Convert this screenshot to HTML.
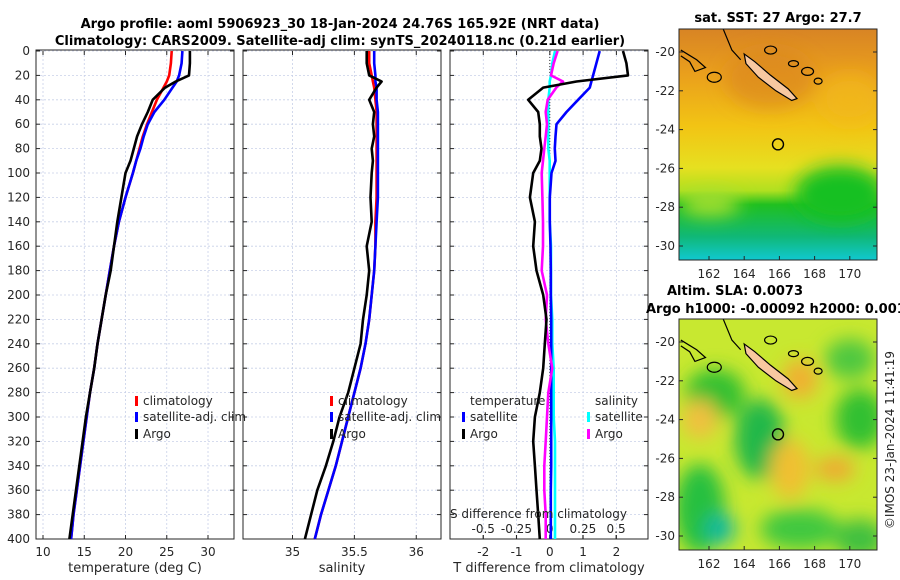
<!DOCTYPE html>
<html><head><meta charset="utf-8"><style>
body{margin:0;background:#fff}
svg{display:block;font-family:"DejaVu Sans","Liberation Sans",sans-serif}
</style></head><body>
<svg id="fig" width="900" height="580" viewBox="0 0 900 580">
<defs>
<linearGradient id="sstg" x1="0" y1="0" x2="0" y2="1">
<stop offset="0" stop-color="#d88424"/><stop offset="0.2" stop-color="#eaa01c"/>
<stop offset="0.42" stop-color="#f2c414"/><stop offset="0.6" stop-color="#e6e020"/>
<stop offset="0.7" stop-color="#b0e020"/><stop offset="0.76" stop-color="#20c020"/>
<stop offset="0.9" stop-color="#10b878"/><stop offset="1" stop-color="#10c8d0"/>
</linearGradient>
<filter id="blur"><feGaussianBlur stdDeviation="9"/></filter>
<clipPath id="c1"><rect x="679" y="29" width="198" height="231"/></clipPath>
<clipPath id="c2"><rect x="679" y="319" width="198" height="231"/></clipPath>
</defs>
<g id="root"></g>
</svg>
<script>
// ---------- data ----------
const depths = [0,10,20,25,30,40,50,60,70,80,90,100,120,140,160,180,200,220,240,260,280,300,320,340,360,380,400];
const tempArgo = [27.8,27.8,27.7,26.1,24.8,23.3,22.7,22.0,21.4,21.0,20.6,20.0,19.5,19.0,18.6,18.2,17.6,17.1,16.6,16.2,15.7,15.2,14.8,14.4,14.0,13.6,13.2];
const tempClim = [25.6,25.5,25.3,25.0,24.6,23.8,23.2,22.6,22.1,21.7,21.3,20.9,20.0,19.2,18.6,18.1,17.6,17.1,16.6,16.2,15.7,15.3,14.9,14.5,14.1,13.7,13.4];
const tempSat  = [26.9,26.8,26.5,26.2,25.7,24.7,23.5,22.7,22.2,21.8,21.3,20.9,20.0,19.2,18.6,18.1,17.6,17.1,16.6,16.2,15.7,15.3,14.9,14.5,14.1,13.7,13.4];
const salArgo = [35.6,35.6,35.62,35.72,35.68,35.62,35.66,35.65,35.66,35.64,35.65,35.64,35.63,35.64,35.6,35.62,35.6,35.57,35.55,35.5,35.45,35.38,35.33,35.27,35.2,35.15,35.1];
const salClim = [35.62,35.62,35.64,35.65,35.66,35.67,35.68,35.68,35.68,35.68,35.68,35.68,35.68,35.67,35.67,35.66,35.64,35.62,35.59,35.55,35.5,35.45,35.4,35.35,35.29,35.23,35.18];
const salSat  = [35.66,35.66,35.67,35.67,35.68,35.68,35.69,35.69,35.69,35.69,35.69,35.69,35.69,35.68,35.67,35.66,35.64,35.62,35.59,35.55,35.5,35.45,35.4,35.35,35.29,35.23,35.18];
const tDiffArgo = [2.2,2.3,2.35,0.8,-0.2,-0.65,-0.35,-0.3,-0.3,-0.25,-0.3,-0.5,-0.6,-0.45,-0.5,-0.4,-0.2,-0.1,-0.15,-0.2,-0.3,-0.45,-0.5,-0.45,-0.4,-0.35,-0.3];
const tDiffSat  = [1.5,1.4,1.3,1.25,1.2,0.85,0.5,0.2,0.17,0.15,0.17,0.05,0.0,0.0,0.02,0.03,0.03,0.04,0.04,0.04,0.04,0.04,0.04,0.04,0.03,0.03,0.03];
const sDiffArgo = [0.06,0.03,0.01,0.1,0.05,-0.015,-0.03,-0.02,-0.03,-0.04,-0.05,-0.06,-0.055,-0.05,-0.05,-0.06,-0.02,-0.03,-0.01,0.02,-0.01,-0.02,-0.03,-0.04,-0.04,-0.03,-0.03];
const sDiffSat  = [0.04,0.02,0.01,0.0,0.0,-0.01,-0.01,-0.01,-0.01,-0.01,0.0,0.0,0.0,0.0,0.01,0.01,0.01,0.02,0.02,0.03,0.03,0.03,0.04,0.04,0.04,0.04,0.04];
const depthTicks = [0,20,40,60,80,100,120,140,160,180,200,220,240,260,280,300,320,340,360,380,400];
const tempTicks = [10,15,20,25,30];
const salTicks = [35,35.5,36];
const tDiffTicks = [-2,-1,0,1,2];
const sDiffTicks = [-0.5,-0.25,0,0.25,0.5];
const latTicks = [-20,-22,-24,-26,-28,-30];
const lonTicks = [162,164,166,168,170];

const NS='http://www.w3.org/2000/svg';
const root=document.getElementById('root');
function el(tag,attrs,parent,text){const e=document.createElementNS(NS,tag);for(const k in attrs)e.setAttribute(k,attrs[k]);if(text!==undefined)e.textContent=text;(parent||root).appendChild(e);return e;}

const Y0=51,Y1=539;
const yD=d=>Y0+(d/400)*(Y1-Y0);
const panels=[
 {x0:36,x1:234,lo:9.15,hi:33.15,name:'temperature'},
 {x0:243,x1:441,lo:34.6,hi:36.2,name:'salinity'},
 {x0:450,x1:648,lo:-3.0,hi:2.95,name:'tdiff'}
];
const xs=(p,v)=>p.x0+(v-p.lo)/(p.hi-p.lo)*(p.x1-p.x0);
const sAxis={x0:450,x1:648,lo:-0.75,hi:0.74};

panels.forEach((p,i)=>{
 const g=el('g',{},root);
 
 
 el('rect',{x:p.x0,y:Y0-1,width:p.x1-p.x0,height:Y1-Y0+1,fill:'#fff'},g);
 depthTicks.forEach(d=>{el('line',{x1:p.x0,x2:p.x1,y1:yD(d),y2:yD(d),stroke:'#c8d0e8','stroke-width':0.8,'stroke-dasharray':'2,2'},g);
  el('line',{x1:p.x0,x2:p.x0+4,y1:yD(d),y2:yD(d),stroke:'#262626'},g);
  el('line',{x1:p.x1,x2:p.x1-4,y1:yD(d),y2:yD(d),stroke:'#262626'},g);});
 const ticks=i==0?tempTicks:i==1?salTicks:tDiffTicks;
 ticks.forEach(t=>{const x=xs(p,t);
  el('line',{x1:x,x2:x,y1:Y0,y2:Y1,stroke:'#c8d0e8','stroke-width':0.8,'stroke-dasharray':'2,2'},g);
  el('line',{x1:x,x2:x,y1:Y1,y2:Y1-4,stroke:'#262626'},g);
  el('line',{x1:x,x2:x,y1:Y0,y2:Y0+4,stroke:'#262626'},g);
  const tl=el('text',{x:x,y:556,'font-size':12,fill:'#262626','text-anchor':'middle'},g,String(t));
  
  
 });
 if(i==2){sDiffTicks.forEach(t=>{const x=sAxis.x0+(t-sAxis.lo)/(sAxis.hi-sAxis.lo)*(sAxis.x1-sAxis.x0);
   el('line',{x1:x,x2:x,y1:Y1,y2:Y1-4,stroke:'#262626'},g);
   const tl=el('text',{x:x,y:533,'font-size':12,fill:'#262626','text-anchor':'middle'},g,String(t));
   
   });}
 el('rect',{x:p.x0,y:Y0-1,width:p.x1-p.x0,height:Y1-Y0+1,fill:'none',stroke:'#262626','stroke-width':1},g);
});
depthTicks.forEach(d=>{const t=el('text',{x:30,y:yD(d)+4,'font-size':12,fill:'#262626','text-anchor':'end'},root,String(d));
 
 });

function line(vals,xf,color,name,w){
 const pts=vals.map((v,k)=>xf(v).toFixed(1)+','+yD(depths[k]).toFixed(1)).join(' ');
 const pl=el('polyline',{points:pts,fill:'none',stroke:color,'stroke-width':w||2.6,'stroke-linejoin':'round'});
 
 
}
const P=panels;
line(tempClim,v=>xs(P[0],v),'#ff0000','temp-climatology-line');
line(tempSat,v=>xs(P[0],v),'#0000ff','temp-satellite-line');
line(tempArgo,v=>xs(P[0],v),'#000','temp-argo-line');
line(salClim,v=>xs(P[1],v),'#ff0000','sal-climatology-line');
line(salSat,v=>xs(P[1],v),'#0000ff','sal-satellite-line');
line(salArgo,v=>xs(P[1],v),'#000','sal-argo-line');
el('line',{x1:xs(P[2],0),x2:xs(P[2],0),y1:Y0,y2:Y1,stroke:'#000','stroke-width':0.8,'stroke-dasharray':'1,2'});
const sx=v=>sAxis.x0+(v-sAxis.lo)/(sAxis.hi-sAxis.lo)*(sAxis.x1-sAxis.x0);
line(sDiffSat,sx,'#00ffff','sdiff-satellite-line');
line(tDiffSat,v=>xs(P[2],v),'#0000ff','tdiff-satellite-line');
line(sDiffArgo,sx,'#ff00ff','sdiff-argo-line');
line(tDiffArgo,v=>xs(P[2],v),'#000','tdiff-argo-line');

function txt(x,y,s,name,opts){const o=Object.assign({x:x,y:y,'font-size':12,fill:'#262626'},opts||{});const t=el('text',o,root,s);
 
 return t;}
function leg(x,y,color,label,name){el('rect',{x:x,y:y-9,width:3,height:10,fill:color});txt(x+8,y,label,name);}
leg(135,405,'#ff0000','climatology','legend-climatology');
leg(135,421,'#0000ff','satellite-adj. clim','legend-satellite');
leg(135,438,'#000','Argo','legend-argo');
leg(330,405,'#ff0000','climatology','legend-climatology-2');
leg(330,421,'#0000ff','satellite-adj. clim','legend-satellite-2');
leg(330,438,'#000','Argo','legend-argo-2');
txt(470,405,'temperature','legend-title-temperature');
leg(462,421,'#0000ff','satellite','legend-t-satellite');
leg(462,438,'#000','Argo','legend-t-argo');
txt(595,405,'salinity','legend-title-salinity');
leg(587,421,'#00ffff','satellite','legend-s-satellite');
leg(587,438,'#ff00ff','Argo','legend-s-argo');
txt(450,518,'S difference from climatology','s-diff-axis-title');
txt(135,572,'temperature (deg C)','x-axis-title-temperature',{'text-anchor':'middle','font-size':13});
txt(342,572,'salinity','x-axis-title-salinity',{'text-anchor':'middle','font-size':13});
txt(549,572,'T difference from climatology','x-axis-title-tdiff',{'text-anchor':'middle','font-size':13});
txt(340,28,'Argo profile: aoml 5906923_30 18-Jan-2024 24.76S 165.92E (NRT data)','title-line-1',{'text-anchor':'middle','font-size':13,'font-weight':'bold',fill:'#000'});
txt(340,45,'Climatology: CARS2009. Satellite-adj clim: synTS_20240118.nc (0.21d earlier)','title-line-2',{'text-anchor':'middle','font-size':13,'font-weight':'bold',fill:'#000'});

// ---------- maps ----------
const lonX=lon=>709+(lon-162)*17.6;
function latY(lat,off){return 52+(-20-lat)*19.4+off;}
function map(off,clip,kind,name){
 const g=el('g',{'clip-path':'url(#'+clip+')'});
 
 
 const y0=29+off;
 if(kind==='sst'){
  el('rect',{x:679,y:y0,width:198,height:231,fill:'url(#sstg)'},g);
  const b=el('g',{filter:'url(#blur)'},g);
  el('ellipse',{cx:840,cy:y0+165,rx:45,ry:28,fill:'#18c020'},b);
  el('ellipse',{cx:710,cy:y0+175,rx:30,ry:12,fill:'#a8e030'},b);
  el('ellipse',{cx:770,cy:y0+50,rx:45,ry:30,fill:'#d88420','opacity':0.6},b);
  el('ellipse',{cx:850,cy:y0+70,rx:30,ry:25,fill:'#f2b818','opacity':0.7},b);
 } else {
  el('rect',{x:679,y:y0,width:198,height:231,fill:'#c8e830'},g);
  const b=el('g',{filter:'url(#blur)'},g);
  [[760,y0+120,25,40,'#20b848'],[715,y0+75,30,25,'#30c030'],[700,y0+190,25,45,'#28c040'],[720,y0+210,15,15,'#10b8a0'],
   [860,y0+100,25,30,'#30c030'],[850,y0+40,25,20,'#50c840'],[800,y0+210,40,20,'#40c840'],[860,y0+220,25,20,'#40c040'],
   [800,y0+60,18,20,'#f0b030'],[700,y0+100,18,20,'#f0c040'],[790,y0+150,20,30,'#f0c030'],[835,y0+150,20,12,'#f0a830']].forEach(e=>
   el('ellipse',{cx:e[0],cy:e[1],rx:e[2],ry:e[3],fill:e[4]},b));
 }
 const isl=[[164.0,-20.1],[164.6,-20.5],[165.5,-21.2],[166.5,-21.9],[167.0,-22.4],[166.7,-22.5],[165.8,-22.0],[164.8,-21.3],[164.1,-20.6]];
 const ip=el('polygon',{points:isl.map(q=>lonX(q[0])+','+latY(q[1],off)).join(' '),fill:'#f8c8a0',stroke:'#000','stroke-width':1.2},g);
 
 
 el('polyline',{points:[[160.4,-19.9],[161.3,-20.4],[161.8,-20.8],[161.2,-21.0],[160.9,-20.5],[160.4,-20.2]].map(q=>lonX(q[0])+','+latY(q[1],off)).join(' '),fill:'none',stroke:'#000','stroke-width':1.2},g);
 el('polyline',{points:[[162.8,-18.8],[163.3,-19.9],[163.8,-20.4]].map(q=>lonX(q[0])+','+latY(q[1],off)).join(' '),fill:'none',stroke:'#000','stroke-width':1.2},g);
 [[162.3,-21.3,7,5],[165.5,-19.9,6,4],[166.8,-20.6,5,3],[167.6,-21.0,6,4],[168.2,-21.5,4,3]].forEach(c=>
  el('ellipse',{cx:lonX(c[0]),cy:latY(c[1],off),rx:c[2],ry:c[3],fill:'none',stroke:'#000','stroke-width':1.2},g));
 const ac=el('circle',{cx:lonX(165.92),cy:latY(-24.76,off),r:5.5,fill:'none',stroke:'#000','stroke-width':1.4},g);
 
 
 el('rect',{x:679,y:y0,width:198,height:231,fill:'none',stroke:'#262626'});
 latTicks.forEach(l=>{const y=latY(l,off);el('line',{x1:679,x2:683,y1:y,y2:y,stroke:'#262626'});el('line',{x1:877,x2:873,y1:y,y2:y,stroke:'#262626'});
  txt(675,y+4,String(l),'lat-tick-label',{'text-anchor':'end'});});
 lonTicks.forEach(l=>{const x=lonX(l);el('line',{x1:x,x2:x,y1:y0+231,y2:y0+227,stroke:'#262626'});
  txt(x,y0+249,String(l),'lon-tick-label',{'text-anchor':'middle'});});
}
map(0,'c1','sst','sst-map');
map(290,'c2','sla','sla-map');
txt(778,22,'sat. SST: 27 Argo: 27.7','sst-map-title',{'text-anchor':'middle','font-size':13,'font-weight':'bold',fill:'#000'});
txt(735,295,'Altim. SLA: 0.0073','sla-map-title',{'text-anchor':'middle','font-size':13,'font-weight':'bold',fill:'#000'});
txt(646,313,'Argo h1000: -0.00092 h2000: 0.001','sla-map-subtitle',{'font-size':13,'font-weight':'bold',fill:'#000'});
txt(0,0,'©IMOS 23-Jan-2024 11:41:19','copyright-stamp',{'text-anchor':'middle','font-size':12,transform:'translate(894,440) rotate(-90)'});
</script>
</body></html>
